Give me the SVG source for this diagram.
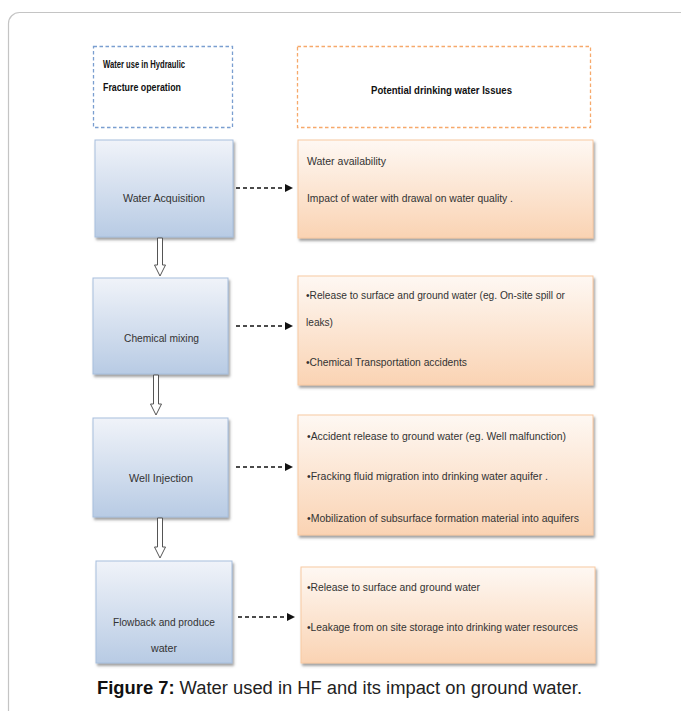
<svg xmlns="http://www.w3.org/2000/svg" width="681" height="711" viewBox="0 0 681 711">
<defs>
<linearGradient id="gb" x1="0" y1="0" x2="0" y2="1"><stop offset="0" stop-color="#f0f3f9"/><stop offset="1" stop-color="#b8cbe4"/></linearGradient>
<linearGradient id="go" x1="0" y1="0" x2="0" y2="1"><stop offset="0" stop-color="#fef8f3"/><stop offset="1" stop-color="#fad3b3"/></linearGradient>
<marker id="ah" viewBox="0 0 8 8" refX="7" refY="4" markerWidth="8" markerHeight="8" markerUnits="userSpaceOnUse" orient="auto"><path d="M0,0 L8,4 L0,8 Z" fill="#111"/></marker>
<filter id="sh" x="-5%" y="-5%" width="115%" height="120%"><feDropShadow dx="1.5" dy="2.5" stdDeviation="1" flood-color="#666" flood-opacity="0.6"/></filter>
</defs>
<style>
text{font-family:"Liberation Sans",Arial,sans-serif;font-size:11.5px;fill:#333}
.h{fill:#111;font-weight:bold}
.blue{fill:url(#gb);stroke:#a7bfdd;stroke-width:1;filter:url(#sh)}
.org{fill:url(#go);stroke:#f8c9a2;stroke-width:1;filter:url(#sh)}
.dash{stroke:#111;stroke-width:1.3;stroke-dasharray:4 3;fill:none;marker-end:url(#ah)}
.down{fill:#fff;stroke:#555;stroke-width:1}
.cap{font-size:18px;fill:#222}
</style>
<rect x="8.5" y="12.5" width="720" height="730" rx="11" fill="#fff" stroke="#c4c4c4" stroke-width="1.2"/>
<g id="hdr-left"><rect x="93.5" y="46.5" width="139" height="81" fill="none" stroke="#7a9ed0" stroke-width="1.3" stroke-dasharray="3.5 2.5"/>
<text class="h" x="103" y="68" textLength="82" lengthAdjust="spacingAndGlyphs">Water use in Hydraulic</text>
<text class="h" x="103" y="91" textLength="78" lengthAdjust="spacingAndGlyphs">Fracture operation</text></g>
<g id="hdr-right"><rect x="297.5" y="46.5" width="293" height="81" fill="none" stroke="#f6a96b" stroke-width="1.3" stroke-dasharray="3.5 2.5"/>
<text class="h" x="371" y="94" textLength="141" lengthAdjust="spacingAndGlyphs">Potential drinking water Issues</text></g>
<g id="b1"><rect class="blue" x="95" y="140" width="138" height="97"/>
<text x="123" y="202" textLength="82" lengthAdjust="spacingAndGlyphs">Water Acquisition</text></g>
<g id="b2"><rect class="blue" x="93" y="278" width="135" height="96"/>
<text x="124" y="342" textLength="75" lengthAdjust="spacingAndGlyphs">Chemical mixing</text></g>
<g id="b3"><rect class="blue" x="93" y="418" width="135" height="99"/>
<text x="129" y="482" textLength="64" lengthAdjust="spacingAndGlyphs">Well Injection</text></g>
<g id="b4"><rect class="blue" x="96" y="561" width="136" height="102"/>
<text x="113" y="626" textLength="102" lengthAdjust="spacingAndGlyphs">Flowback and produce</text>
<text x="151" y="652" textLength="26" lengthAdjust="spacingAndGlyphs">water</text></g>
<g id="o1"><rect class="org" x="298" y="140" width="295" height="98"/>
<text x="307" y="165" textLength="79" lengthAdjust="spacingAndGlyphs">Water availability</text>
<text x="307" y="202" textLength="206" lengthAdjust="spacingAndGlyphs">Impact of water with drawal on water quality .</text></g>
<g id="o2"><rect class="org" x="298" y="276" width="295" height="109"/>
<text x="306" y="299" textLength="259" lengthAdjust="spacingAndGlyphs">•Release to surface and ground water (eg. On-site spill or</text>
<text x="306" y="326" textLength="27" lengthAdjust="spacingAndGlyphs">leaks)</text>
<text x="306" y="366" textLength="161" lengthAdjust="spacingAndGlyphs">•Chemical Transportation accidents</text></g>
<g id="o3"><rect class="org" x="298" y="415" width="295" height="120"/>
<text x="307" y="440" textLength="259" lengthAdjust="spacingAndGlyphs">•Accident release to ground water (eg. Well malfunction)</text>
<text x="307" y="480" textLength="241" lengthAdjust="spacingAndGlyphs">•Fracking fluid migration into drinking water aquifer .</text>
<text x="307" y="522" textLength="272" lengthAdjust="spacingAndGlyphs">•Mobilization of subsurface formation material into aquifers</text></g>
<g id="o4"><rect class="org" x="301" y="567" width="294" height="96"/>
<text x="307" y="591" textLength="173" lengthAdjust="spacingAndGlyphs">•Release to surface and ground water</text>
<text x="307" y="631" textLength="271" lengthAdjust="spacingAndGlyphs">•Leakage from on site storage into drinking water resources</text></g>
<g id="connectors">
<path class="dash" d="M236,188 H292"/>
<path class="dash" d="M236,326 H292"/>
<path class="dash" d="M236,467 H292"/>
<path class="dash" d="M238,617 H294"/>
<path class="down" d="M157.5,238 V265 H154.5 L160,276 L165.5,265 H162.5 V238 Z"/>
<path class="down" d="M153.5,375 V404 H150.5 L156,415 L161.5,404 H158.5 V375 Z"/>
<path class="down" d="M157.5,518 V547 H154.5 L160,558 L165.5,547 H162.5 V518 Z"/>
</g>
<text class="cap" x="97" y="694" textLength="485" lengthAdjust="spacingAndGlyphs"><tspan font-weight="bold" fill="#111">Figure 7:</tspan> Water used in HF and its impact on ground water.</text>
</svg>
